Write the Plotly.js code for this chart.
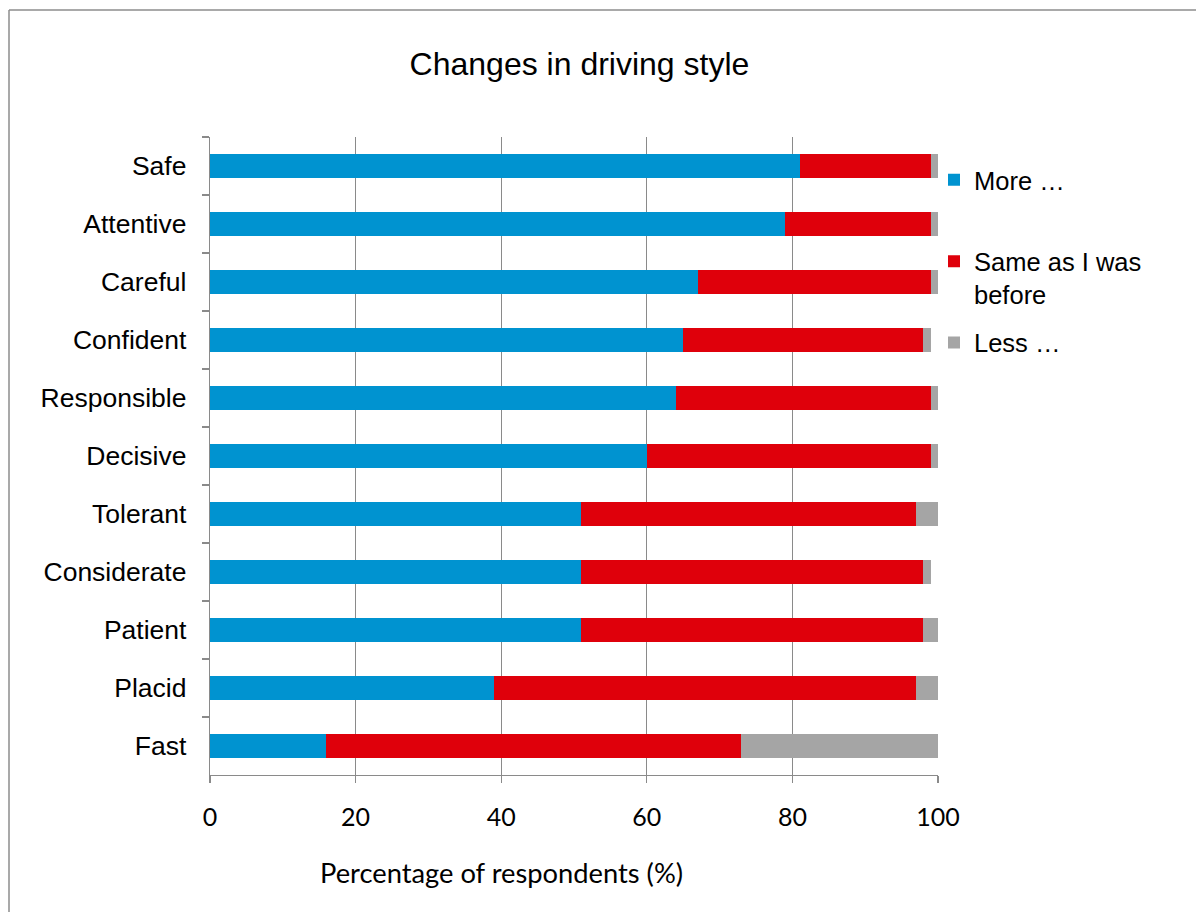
<!DOCTYPE html>
<html>
<head>
<meta charset="utf-8">
<script src="https://cdn.plot.ly/plotly-3.0.1.min.js"></script>
<style>
  html, body { margin: 0; padding: 0; background: #ffffff; }
  #chart { width: 1196px; height: 912px; }
</style>
</head>
<body>
<div id="chart"></div>
<script>
// Driving style traits, listed top to bottom
const traits = ['Safe', 'Attentive', 'Careful', 'Confident', 'Responsible', 'Decisive',
                'Tolerant', 'Considerate', 'Patient', 'Placid', 'Fast'];

// Share of respondents (%) per answer
const moreValues = [81, 79, 67, 65, 64, 60, 51, 51, 51, 39, 16];
const sameValues = [18, 20, 32, 33, 35, 39, 46, 47, 47, 58, 57];
const lessValues = [1, 1, 1, 1, 1, 1, 3, 1, 2, 3, 27];

const seriesNames = ['More …<br> ', 'Same as I was<br>before', 'Less …'];
const xTicks = [0, 20, 40, 60, 80, 100];

const colors = ['#0093D0', '#DF000B', '#A5A5A5'];
const axisGrey = '#8A8A8A';

const seriesValues = [moreValues, sameValues, lessValues];
const traces = seriesValues.map((vals, i) => ({
  type: 'bar',
  orientation: 'h',
  name: seriesNames[i],
  legendgroup: 'g' + i,
  x: vals,
  y: traits,
  marker: { color: colors[i], line: { width: 0 } },
  hoverinfo: 'x+y'
}));

const layout = {
  width: 1196,
  height: 912,
  margin: { l: 210, r: 258, t: 137, b: 137, pad: 0 },
  paper_bgcolor: '#ffffff',
  plot_bgcolor: '#ffffff',
  barmode: 'stack',
  bargap: 0.59,
  font: { family: 'Liberation Sans, Arial, sans-serif', color: '#000000' },
  title: {
    text: 'Changes in driving style',
    font: { family: 'Liberation Sans, Arial, sans-serif', size: 32, color: '#000000' },
    xref: 'container', x: 0.4845, xanchor: 'center',
    yref: 'container', y: 1 - 64 / 912, yanchor: 'middle'
  },
  xaxis: {
    range: [0, 100],
    tickvals: xTicks,
    ticktext: xTicks.map(String),
    showgrid: true,
    gridcolor: axisGrey,
    gridwidth: 1.3,
    zeroline: false,
    showline: true,
    linecolor: axisGrey,
    linewidth: 1.3,
    ticks: 'outside',
    ticklen: 7,
    tickwidth: 1.3,
    tickcolor: axisGrey,
    ticklabelstandoff: 13,
    tickfont: { family: 'Lato, Carlito, Calibri, sans-serif', size: 25, color: '#000000' },
    fixedrange: true
  },
  yaxis: {
    type: 'category',
    categoryorder: 'array',
    categoryarray: traits,
    autorange: 'reversed',
    showgrid: false,
    zeroline: false,
    showline: true,
    linecolor: axisGrey,
    linewidth: 1.3,
    ticks: 'outside',
    tickson: 'boundaries',
    ticklen: 7,
    tickwidth: 1.3,
    tickcolor: axisGrey,
    ticklabelstandoff: 17,
    tickfont: { family: 'Liberation Sans, Arial, sans-serif', size: 26.5, color: '#000000' },
    fixedrange: true
  },
  legend: {
    x: (934 - 210) / 728, xref: 'paper', xanchor: 'left',
    y: 0.969, yanchor: 'top',
    valign: 'top',
    traceorder: 'grouped',
    tracegroupgap: 12,
    font: { family: 'Liberation Sans, Arial, sans-serif', size: 25.5, color: '#000000' },
    bgcolor: 'rgba(0,0,0,0)',
    borderwidth: 0
  },
  annotations: [{
    text: 'Percentage of respondents (%)',
    xref: 'paper', x: (501.5 - 210) / 728, xanchor: 'center',
    yref: 'paper', y: (775 - 872) / 638, yanchor: 'middle',
    showarrow: false,
    font: { family: 'Lato, Carlito, Calibri, sans-serif', size: 27.3, color: '#000000' }
  }],
  shapes: [
    { type: 'line', xref: 'paper', yref: 'paper',
      x0: (9 - 210) / 728, x1: (1200 - 210) / 728,
      y0: (775 - 10) / 638, y1: (775 - 10) / 638,
      line: { color: '#8C8C8C', width: 1.5 } },
    { type: 'line', xref: 'paper', yref: 'paper',
      x0: (9 - 210) / 728, x1: (9 - 210) / 728,
      y0: (775 - 10) / 638, y1: (775 - 916) / 638,
      line: { color: '#8C8C8C', width: 1.5 } }
  ],
  showlegend: true
};

Plotly.newPlot('chart', traces, layout, { displayModeBar: false, staticPlot: true });
</script>
</body>
</html>
